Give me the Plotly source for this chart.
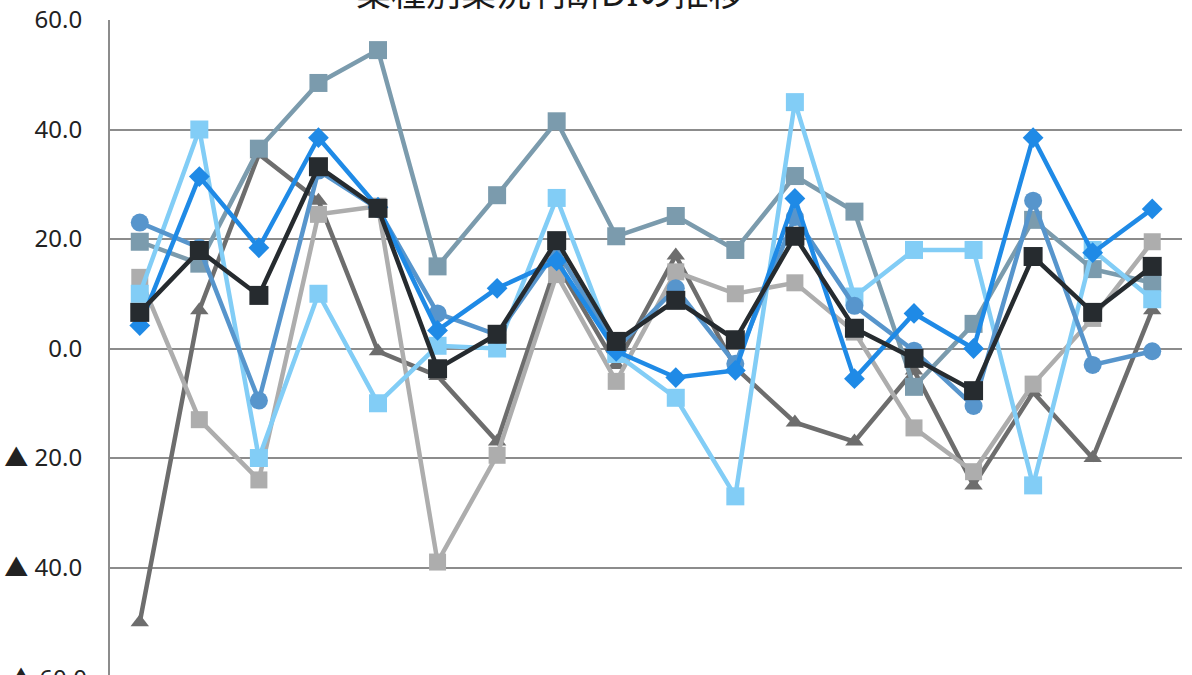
import plotly.graph_objects as go

# 18 survey periods along the horizontal axis
periods = list(range(1, 19))

# Business-conditions DI by industry
di_diamond = [4.2, 31.4, 18.4, 38.5, 25.8, 3.3, 11.0, 16.0, -0.5, -5.3, -4.0, 27.4, -5.5, 6.4, 0.0, 38.5, 17.5, 25.5]
di_circle = [23.0, 18.4, -9.5, 32.5, 25.5, 6.4, 2.5, 18.0, 0.0, 11.0, -2.8, 24.0, 7.8, -0.4, -10.5, 27.0, -3.0, -0.5]
di_slate = [19.5, 15.5, 36.5, 48.5, 54.5, 15.0, 28.0, 41.5, 20.5, 24.2, 18.0, 31.5, 25.0, -7.0, 4.5, 23.5, 14.5, 12.0]
di_sky = [10.0, 40.0, -20.0, 10.0, -10.0, 0.5, 0.0, 27.5, -1.0, -9.0, -27.0, 45.0, 9.5, 18.0, 18.0, -25.0, 18.0, 9.0]
di_silver = [13.0, -13.0, -24.0, 24.5, 26.0, -39.0, -19.5, 13.5, -6.0, 14.0, 10.0, 12.0, 3.0, -14.5, -22.5, -6.5, 5.5, 19.5]
di_graphite = [-50.0, 7.0, 35.5, 27.0, -0.5, -5.0, -17.0, 15.5, -3.0, 17.0, -3.5, -13.5, -17.0, -4.0, -25.0, -8.0, -20.0, 7.0]
di_total = [6.6, 17.9, 9.7, 33.2, 25.6, -3.7, 2.6, 19.7, 1.3, 8.8, 1.6, 20.5, 3.7, -1.8, -7.7, 16.8, 6.6, 15.0]

tick_values = [60, 40, 20, 0, -20, -40]
tick_labels = ["60.0", "40.0", "20.0", "0.0", "▲ 20.0", "▲ 40.0"]

FONT = "Noto Sans, Noto Sans CJK JP, sans-serif"

series = [
    (di_graphite, "#6d6d6d", "triangle-up", 16),
    (di_silver, "#adadad", "square", 17),
    (di_slate, "#7b9bad", "square", 18),
    (di_sky, "#82cdf6", "square", 18),
    (di_circle, "#5795cc", "circle", 18),
    (di_diamond, "#1f8ae6", "diamond", 16),
    (di_total, "#262b2f", "square", 19),
]

fig = go.Figure()
for values, color, symbol, size in series:
    fig.add_trace(go.Scatter(
        x=periods, y=values, mode="lines+markers",
        line=dict(color=color, width=4.5),
        marker=dict(symbol=symbol, size=size, color=color),
        showlegend=False, hoverinfo="skip",
    ))

fig.add_annotation(
    text="業種別業況判断DIの推移", xref="paper", yref="paper",
    x=0.41, y=1.042, xanchor="center", yanchor="middle", showarrow=False,
    font=dict(family=FONT, size=35, color="#1a1a1a"),
)
# lowest axis label sits just past the bottom edge of the plot
fig.add_annotation(
    text="▲ 60.0", xref="paper", yref="paper", x=0, y=-0.004,
    xanchor="right", yanchor="middle", xshift=-21, showarrow=False,
    font=dict(family=FONT, size=24, color="#222222"),
)

fig.update_layout(
    width=1192, height=675,
    margin=dict(l=110, r=10, t=20, b=0),
    paper_bgcolor="white", plot_bgcolor="white",
    font=dict(family=FONT),
    xaxis=dict(range=[0.5, 18.5], showticklabels=False, showgrid=False,
               zeroline=False, showline=False, ticks=""),
    yaxis=dict(range=[-59.63, 60], tickvals=tick_values, ticktext=tick_labels,
               showgrid=True, gridcolor="#8c8c8c", gridwidth=2,
               zeroline=False, showline=True, linecolor="#8c8c8c", linewidth=2,
               ticks="", ticklabelstandoff=21,
               tickfont=dict(family=FONT, size=24, color="#222222")),
)

fig.write_html("out.html")
